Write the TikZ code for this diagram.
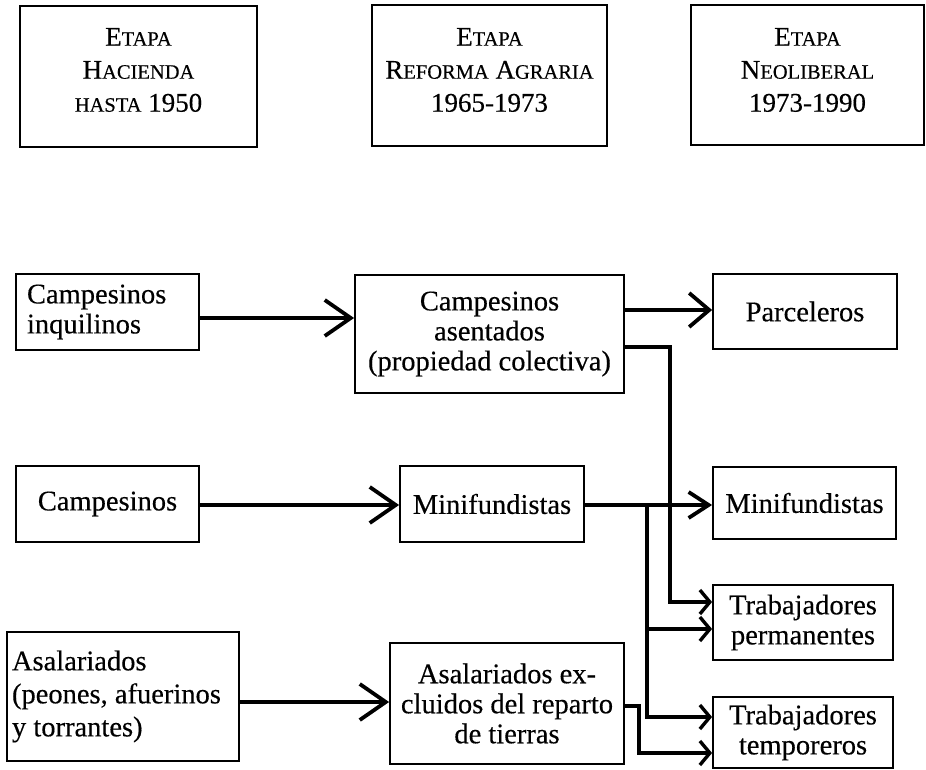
\documentclass[tikz,border=0pt]{standalone}
\usepackage{fontspec}
\setmainfont{Liberation Serif}[FakeBold=0.35]
\usetikzlibrary{arrows.meta,calc}
\newcommand{\capl}[1]{{\fontsize{27}{33}\selectfont #1}}
\newcommand{\smcl}[1]{{\fontsize{20.5}{33}\selectfont #1}}
\frenchspacing
\begin{document}
\begin{tikzpicture}[x=1pt,y=-1pt,
  box/.style={draw, line width=1.8pt, inner sep=0pt, align=center,
    font=\fontsize{28.5}{30}\selectfont},
  lbl/.style={inner sep=0pt, align=center, font=\fontsize{27}{33}\selectfont},
  conn/.style={line width=3.8pt},
  thin conn/.style={line width=3.4pt},
  bigtip/.style={-{Straight Barb[length=26pt,width=36pt]}},
  midtip/.style={-{Straight Barb[length=20pt,width=34pt]}},
  medtip/.style={-{Straight Barb[length=20pt,width=26pt]}},
  smalltip/.style={-{Straight Barb[length=10pt,width=24pt]}}
]
\useasboundingbox (0,0) rectangle (926,770);

% header boxes
\node[box, minimum width=237pt, minimum height=141pt] (t1) at (138.5,76.5) {};
\node[box, minimum width=235pt, minimum height=141pt] (t2) at (489.5,75.5) {};
\node[box, minimum width=233pt, minimum height=140pt] (t3) at (807.5,75) {};
\node[lbl] (t1l) at (138.5,70) {\capl{E}\smcl{TAPA}\\ \capl{H}\smcl{ACIENDA}\\ \smcl{HASTA} 1950};
\node[lbl] (t2l) at (489.5,70) {\capl{E}\smcl{TAPA}\\ \capl{R}\smcl{EFORMA} \capl{A}\smcl{GRARIA}\\ 1965-1973};
\node[lbl] (t3l) at (807.5,70) {\capl{E}\smcl{TAPA}\\ \capl{N}\smcl{EOLIBERAL}\\ 1973-1990};

% row 1
\node[box, minimum width=183pt, minimum height=76pt, text width=161pt, align=left] (ci) at (107.5,312) {Campesinos\\inquilinos};
\node[box, minimum width=269pt, minimum height=118pt] (ca) at (489.5,334) {Campesinos\\asentados\\(propiedad colectiva)};
\node[box, minimum width=184pt, minimum height=75pt] (pa) at (805,311.5) {Parceleros};

% row 2
\node[box, minimum width=183pt, minimum height=76pt] (cm) at (107.5,504) {Campesinos};
\node[box, minimum width=184pt, minimum height=76pt] (mi) at (492,504) {Minifundistas};
\node[box, minimum width=183pt, minimum height=72pt] (mi2) at (804.5,503) {Minifundistas};

% row 3
\node[box, minimum width=232pt, minimum height=129pt, text width=222pt, align=left,
  font=\fontsize{28.5}{33}\selectfont] (as) at (123,696.5) {\spaceskip=0pt\xspaceskip=0pt Asalariados\\(peones, afuerinos\\y torrantes)};
\node[box, minimum width=234pt, minimum height=121pt] (ex) at (507,703.5) {Asalariados ex-\\cluidos del reparto\\de tierras};
\node[box, minimum width=180pt, minimum height=75pt] (tp) at (803,622.5) {Trabajadores\\permanentes};
\node[box, minimum width=180pt, minimum height=71pt] (tt) at (803,732.5) {Trabajadores\\temporeros};

% helper coordinates
\coordinate (r1) at (0,318);
\coordinate (r2) at (0,310);
\coordinate (r3) at (0,505);
\coordinate (r4) at (0,702);
\coordinate (k1) at (670,347);
\coordinate (k2) at (670,602);
\coordinate (b0) at (647,505);
\coordinate (b1) at (647,629);
\coordinate (b2) at (647,717);
\coordinate (e1) at (639,706);
\coordinate (e2) at (639,753);

% connectors
\draw[conn,bigtip] (ci.east |- r1) -- (ca.west |- r1);
\draw[conn,midtip] (ca.east |- r2) -- (pa.west |- r2);
\draw[conn,bigtip] (cm.east |- r3) -- (mi.west |- r3);
\draw[conn,medtip] (mi.east |- r3) -- (mi2.west |- r3);
\draw[conn,bigtip] (as.east |- r4) -- (ex.west |- r4);
\draw[thin conn,smalltip] (ca.east |- k1) -- (k1) -- (k2) -- (tp.west |- k2);
\draw[thin conn,smalltip] (b0) -- (b2) -- (tt.west |- b2);
\draw[thin conn,smalltip] (b1) -- (tp.west |- b1);
\draw[thin conn,smalltip] (ex.east |- e1) -- (e1) -- (e2) -- (tt.west |- e2);
\end{tikzpicture}
\end{document}
